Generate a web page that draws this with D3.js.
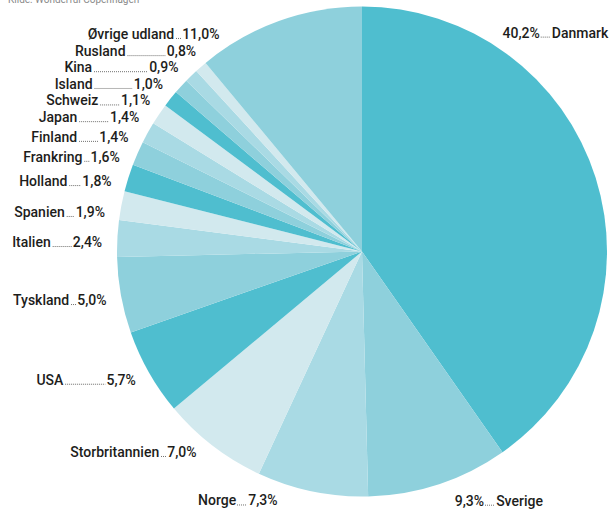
<!DOCTYPE html>
<html>
<head>
<meta charset="utf-8">
<script src="https://cdn.jsdelivr.net/npm/d3@7"></script>
<style>
  html, body { margin: 0; padding: 0; background: #fff; }
  svg { display: block; }
  text { font-family: Roboto, "DejaVu Sans", sans-serif; }
</style>
</head>
<body>
<svg id="chart" width="611" height="511"></svg>
<script>
// ---- data ----
const countries = ["Danmark","Sverige","Norge","Storbritannien","USA","Tyskland","Italien","Spanien","Holland","Frankring","Finland","Japan","Schweiz","Island","Kina","Rusland","Øvrige udland"];
const shares    = [40.2, 9.3, 7.3, 7.0, 5.7, 5.0, 2.4, 1.9, 1.8, 1.6, 1.4, 1.4, 1.1, 1.0, 0.9, 0.8, 11.0];
const shareLabels = ["40,2%","9,3%","7,3%","7,0%","5,7%","5,0%","2,4%","1,9%","1,8%","1,6%","1,4%","1,4%","1,1%","1,0%","0,9%","0,8%","11,0%"];
const sourceText = "Kilde: Wonderful Copenhagen";

// ---- layout / style ----
const W = 611, H = 511;
const cx = 362, cy = 251.5, R = 245;
const R1 = 260;   // radius where the value text ends (left) / starts (right)
const R2 = 350;   // radius where left-side names start
const palette = ["#4FBECF", "#8ED0DC", "#A9DAE4", "#D2E9EE"];
const sliceColor = (d, i) => i === countries.length - 1 ? palette[1] : palette[i % 4];
// label angle adjustments (degrees) relative to slice mid-angle, and radial push (px)
const labelShift = [-39.8, -2.2, 7.0, 2.0, 0.0, -0.5, -1.0, -2.1, -1.8, -2.3, -2.9, -3.0, -3.1, -2.3, -0.7, 1.5, -13.4];
const labelPush  = [0, 6, 3, 0, 0, 0, 0, 0, 0, 0, 0, 0, 0, 0, 0, 0, 0];
const fontSize = 14;
const gapCompact = 12;

const svg = d3.select("#chart");

// source line (clipped at top, as in the original)
svg.append("text")
  .attr("x", 8).attr("y", 3)
  .attr("font-size", 10)
  .attr("fill", "#8a8a8a")
  .text(sourceText);

const pie = d3.pie().sort(null).value(d => d)(shares);
const arc = d3.arc().innerRadius(0).outerRadius(R);

const g = svg.append("g").attr("transform", `translate(${cx},${cy})`);
g.selectAll("path.slice")
  .data(pie)
  .join("path")
  .attr("class", "slice")
  .attr("d", arc)
  .attr("fill", (d, i) => sliceColor(d, i))
  .attr("stroke", "none");

// labels
const lab = svg.append("g");
pie.forEach((d, i) => {
  const mid = (d.startAngle + d.endAngle) / 2 + labelShift[i] * Math.PI / 180;
  const rr = R1 + labelPush[i];
  const px = cx + rr * Math.sin(mid);
  const py = cy - rr * Math.cos(mid);
  const base = py + fontSize * 0.35;
  const deg = (mid * 180 / Math.PI + 360) % 360;
  const grp = lab.append("g");
  const mk = (txt, x, anchor) => grp.append("text")
      .attr("x", x).attr("y", base)
      .attr("font-size", fontSize)
      .attr("font-weight", 500)
      .attr("fill", "#1d1d1b")
      .attr("text-anchor", anchor)
      .text(txt);
  let lx0, lx1;
  if (deg < 180) {
    // right side: value, leader, name
    const v = mk(shareLabels[i], px, "start");
    const vw = v.node().getComputedTextLength();
    lx0 = px + vw + 1;
    lx1 = lx0 + gapCompact - 2;
    mk(countries[i], lx0 + gapCompact - 1, "start");
  } else if (deg < 205) {
    // bottom: name, short leader, value ending at px
    const v = mk(shareLabels[i], px, "end");
    const vw = v.node().getComputedTextLength();
    lx1 = px - vw - 1;
    lx0 = lx1 - gapCompact + 2;
    mk(countries[i], lx0 - 1, "end");
  } else {
    // left side: name starting on outer circle, leader, value ending at px
    const v = mk(shareLabels[i], px, "end");
    const vw = v.node().getComputedTextLength();
    const dy = py - cy;
    const nx = cx - Math.sqrt(Math.max(0, R2 * R2 - dy * dy));
    const n = mk(countries[i], nx, "start");
    const nw = n.node().getComputedTextLength();
    lx1 = px - vw - 1;
    lx0 = nx + nw + 2;
    if (lx1 - lx0 < 5) {
      lx0 = lx1 - 5;
      n.attr("x", lx0 - 2).attr("text-anchor", "end");
    }
  }
  grp.append("line")
    .attr("x1", lx0).attr("x2", lx1)
    .attr("y1", base - 0.5).attr("y2", base - 0.5)
    .attr("stroke", "#1d1d1b")
    .attr("stroke-width", 0.8)
    .attr("stroke-dasharray", "0.8,1.2");
});
</script>
</body>
</html>
